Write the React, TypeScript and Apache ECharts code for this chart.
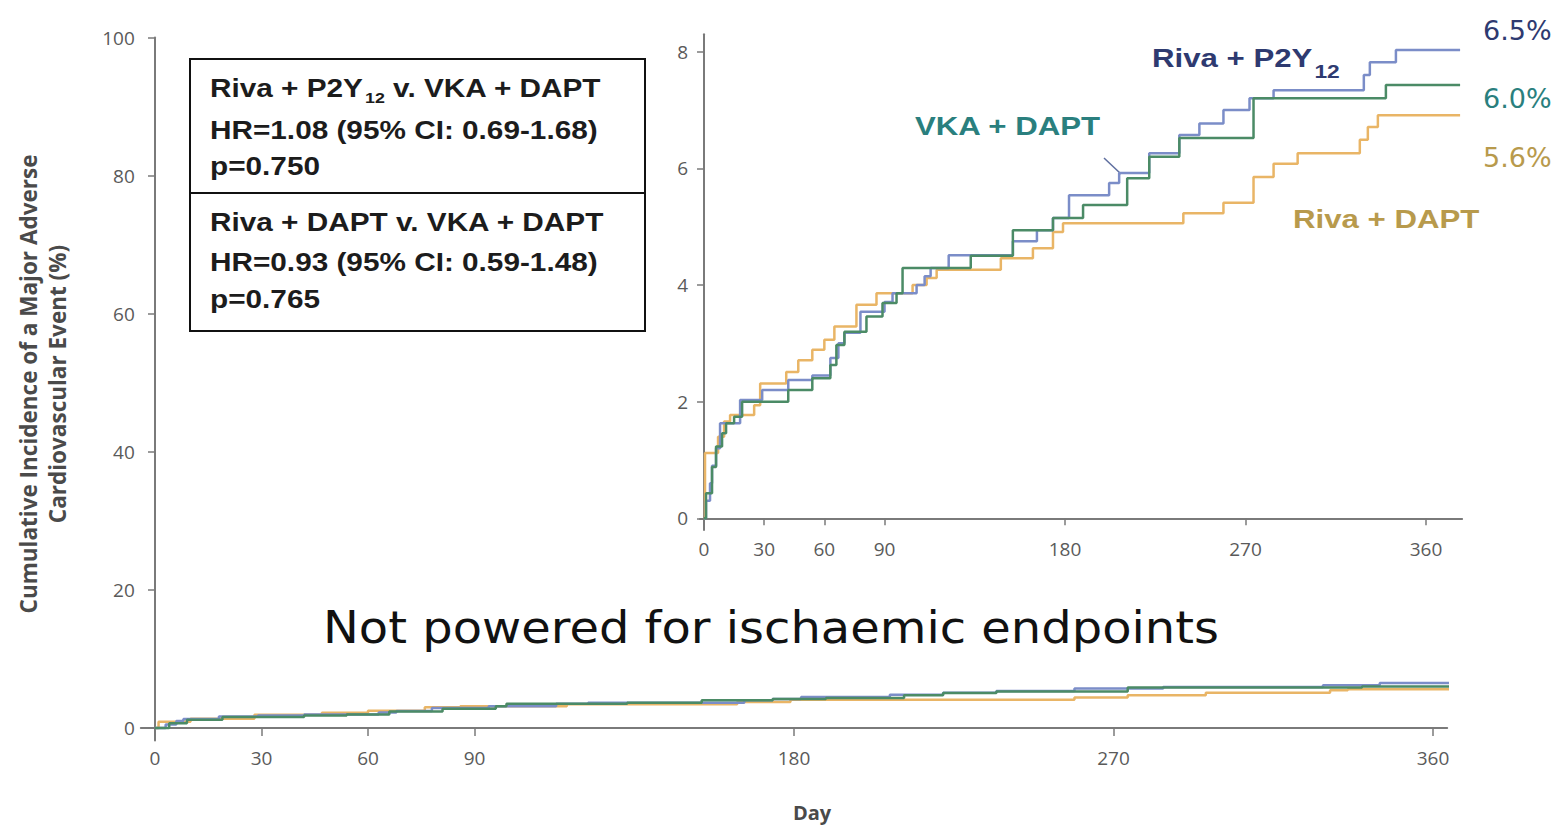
import React, { useEffect, useRef } from "react";
import * as echarts from "echarts";

// Tick positions
const dayTicks = [0, 30, 60, 90, 180, 270, 360];
const mainPctTicks = [0, 20, 40, 60, 80, 100];
const insetPctTicks = [0, 2, 4, 6, 8];

const seriesNames = ["Riva + P2Y12", "VKA + DAPT", "Riva + DAPT"];
const seriesColors = ["#7b8dc8", "#4b8b66", "#e9b566"];
const labelColors = ["#2e3a70", "#2a7f7e", "#b89a4c"];
const finalRates = ["6.5%", "6.0%", "5.6%"];

// Kaplan–Meier steps on the full 0–100 % scale: [day, cumulative incidence %]
const mainRivaP2Y12 = [
  [0, 0], [3, 0.5], [6, 1.0], [8, 1.3], [18, 1.65], [29, 1.8], [42, 1.95], [63, 2.25],
  [68, 2.45], [78, 2.9], [94, 3.15], [113, 3.5], [122, 3.65], [166, 4.0], [174, 4.2],
  [182, 4.5], [207, 4.8], [222, 5.1], [237, 5.35], [259, 5.7], [284, 5.95], [329, 6.2],
  [345, 6.5], [377, 6.5],
];
const mainVkaDapt = [
  [0, 0], [4, 0.7], [9, 1.2], [19, 1.6], [42, 1.8], [54, 1.95], [66, 2.4], [81, 2.8],
  [96, 3.15], [99, 3.5], [133, 3.65], [154, 4.0], [174, 4.2], [189, 4.35], [211, 4.75],
  [222, 5.05], [237, 5.3], [274, 5.85], [340, 6.0], [377, 6.0],
];
const mainRivaDapt = [
  [0, 0], [1, 0.9], [10, 1.35], [28, 1.9], [47, 2.2], [60, 2.5], [76, 3.0], [86, 3.15],
  [116, 3.45], [164, 3.75], [179, 4.1], [259, 4.4], [274, 4.75], [296, 5.1], [331, 5.45],
  [336, 5.6], [377, 5.6],
];

// Kaplan–Meier steps in the magnified inset: [day, value on the 0–8 axis]
const insetRivaP2Y12 = [
  [0, 0], [1, 0.3], [3, 0.6], [4, 0.9], [6, 1.2], [8, 1.63], [18, 2.03], [29, 2.2],
  [42, 2.37], [54, 2.45], [63, 2.75], [67, 3.0], [70, 3.18], [78, 3.54], [90, 3.71],
  [94, 3.86], [106, 4.0], [110, 4.15], [113, 4.29], [122, 4.51], [154, 4.75], [166, 4.94],
  [174, 5.15], [182, 5.54], [202, 5.75], [207, 5.92], [222, 6.26], [237, 6.57], [247, 6.77],
  [259, 7.0], [272, 7.2], [284, 7.34], [329, 7.6], [332, 7.82], [345, 8.03], [377, 8.03],
];
const insetVkaDapt = [
  [0, 0], [1, 0.43], [4, 0.88], [6, 1.23], [9, 1.46], [11, 1.63], [15, 1.74], [19, 2.0],
  [42, 2.2], [54, 2.4], [63, 2.63], [66, 2.97], [70, 3.2], [81, 3.46], [89, 3.69],
  [96, 3.86], [99, 4.29], [133, 4.5], [154, 4.94], [174, 5.15], [189, 5.37], [211, 5.83],
  [222, 6.2], [237, 6.52], [274, 7.2], [340, 7.43], [377, 7.43],
];
const insetRivaDapt = [
  [0, 0], [0.5, 1.12], [7, 1.4], [10, 1.66], [13, 1.77], [25, 1.94], [28, 2.31], [41, 2.51],
  [47, 2.71], [54, 2.89], [60, 3.06], [65, 3.29], [76, 3.66], [86, 3.86], [104, 4.0],
  [111, 4.12], [116, 4.26], [148, 4.46], [164, 4.63], [174, 4.91], [179, 5.06], [239, 5.23],
  [259, 5.41], [274, 5.85], [284, 6.08], [296, 6.26], [327, 6.49], [331, 6.71], [336, 6.91],
  [377, 6.91],
];

// Hazard-ratio comparisons shown in the boxed panel
const comparison1 = ["Riva + P2Y", "12", " v. VKA + DAPT"];
const comparison1Stats = ["HR=1.08 (95% CI: 0.69-1.68)", "p=0.750"];
const comparison2 = "Riva + DAPT v. VKA + DAPT";
const comparison2Stats = ["HR=0.93 (95% CI: 0.59-1.48)", "p=0.765"];

const yAxisTitle = "Cumulative Incidence of a Major Adverse\nCardiovascular Event (%)";
const xAxisTitle = "Day";
const footnote = "Not powered for ischaemic endpoints";

let measureCtx: CanvasRenderingContext2D | null = null;
function measure(text: string, font: string): number {
  if (!measureCtx) measureCtx = document.createElement("canvas").getContext("2d");
  if (!measureCtx) return text.length * 10;
  measureCtx.font = font;
  return measureCtx.measureText(text).width;
}

const BOLD_FAMILY = '"Liberation Sans", Arial, sans-serif';
const AXIS_GREY = "#7a7a7a";
const TICK_TEXT = "#5a5a5a";

function boldText(text: string, x: number, y: number, size: number, color: string, sx: number) {
  return {
    type: "text",
    x,
    y,
    scaleX: sx,
    silent: true,
    style: {
      text,
      fill: color,
      fontFamily: BOLD_FAMILY,
      fontWeight: "bold",
      fontSize: size,
      align: "left",
      verticalAlign: "middle",
    },
  };
}

// "Riva + P2Y" with a lowered "12" and a trailing part
function subscripted(parts: string[], x: number, y: number, size: number, subSize: number, subDy: number, color: string, sx: number) {
  const w1 = measure(parts[0], `bold ${size}px "Liberation Sans"`) * sx;
  const w2 = measure(parts[1], `bold ${subSize}px "Liberation Sans"`) * sx;
  const out: any[] = [
    boldText(parts[0], x, y, size, color, sx),
    boldText(parts[1], x + w1 + 2, y + subDy, subSize, color, sx),
  ];
  if (parts[2]) out.push(boldText(parts[2], x + w1 + 2 + w2, y, size, color, sx));
  return out;
}

function lineSeries(name: string, data: number[][], color: string, axis: number, width: number, z: number) {
  return {
    type: "line",
    name,
    data,
    step: "end",
    xAxisIndex: axis,
    yAxisIndex: axis,
    showSymbol: false,
    symbol: "none",
    silent: true,
    z,
    lineStyle: { color, width },
    itemStyle: { color },
  };
}

function valueAxis(gridIndex: number, min: number, max: number, ticks: number[], margin: number, tickLen: number) {
  return {
    type: "value",
    gridIndex,
    min,
    max,
    splitLine: { show: false },
    axisLine: { show: true, onZero: true, lineStyle: { color: AXIS_GREY, width: 2 } },
    axisTick: { show: true, customValues: ticks, length: tickLen, lineStyle: { color: AXIS_GREY, width: 1.5 } },
    axisLabel: {
      customValues: ticks,
      margin,
      color: TICK_TEXT,
      fontFamily: "Open Sans",
      fontSize: 19,
    },
  };
}

export default function App() {
  const ref = useRef<HTMLDivElement>(null);

  useEffect(() => {
    if (!ref.current) return;
    const chart = echarts.init(ref.current, undefined, { renderer: "svg" });

    const graphic: any[] = [];

    // y-axis title of the full-scale plot
    graphic.push({
      type: "text",
      x: 43,
      y: 384,
      rotation: Math.PI / 2,
      silent: true,
      style: {
        text: yAxisTitle,
        fill: "#4a4a4a",
        fontFamily: "Open Sans",
        fontWeight: "bold",
        fontSize: 22.5,
        lineHeight: 29,
        align: "center",
        verticalAlign: "middle",
      },
    });
    graphic.push({
      type: "text",
      x: 812,
      y: 812,
      silent: true,
      style: {
        text: xAxisTitle,
        fill: "#4a4a4a",
        fontFamily: "Open Sans",
        fontWeight: "bold",
        fontSize: 20,
        align: "center",
        verticalAlign: "middle",
      },
    });

    // boxed comparison panel
    graphic.push({
      type: "rect",
      silent: true,
      shape: { x: 190, y: 59, width: 455, height: 272 },
      style: { fill: "#fff", stroke: "#111", lineWidth: 2 },
    });
    graphic.push({
      type: "line",
      silent: true,
      shape: { x1: 190, y1: 193, x2: 645, y2: 193 },
      style: { stroke: "#111", lineWidth: 2 },
    });
    const boxSx = 1.19;
    graphic.push(...subscripted(comparison1, 210, 88, 25, 15, 10, "#1c1c1c", boxSx));
    graphic.push(boldText(comparison1Stats[0], 210, 130, 25, "#1c1c1c", boxSx));
    graphic.push(boldText(comparison1Stats[1], 210, 166, 25, "#1c1c1c", boxSx));
    graphic.push(boldText(comparison2, 210, 222, 25, "#1c1c1c", boxSx));
    graphic.push(boldText(comparison2Stats[0], 210, 262, 25, "#1c1c1c", boxSx));
    graphic.push(boldText(comparison2Stats[1], 210, 299, 25, "#1c1c1c", boxSx));

    // inset curve labels
    graphic.push(...subscripted(["Riva + P2Y", "12", ""], 1152, 58, 26, 19, 13, labelColors[0], 1.2));
    graphic.push(boldText(seriesNames[1], 915, 126, 26, labelColors[1], 1.2));
    graphic.push(boldText(seriesNames[2], 1293, 219, 26, labelColors[2], 1.2));
    graphic.push({
      type: "polyline",
      silent: true,
      shape: { points: [[1104, 158], [1121, 174]] },
      style: { stroke: "#5f6f9f", lineWidth: 1.5, fill: null },
    });

    // one-year rates
    const rateY = [30, 98, 157];
    finalRates.forEach((r, i) => {
      graphic.push({
        type: "text",
        x: 1483,
        y: rateY[i],
        silent: true,
        style: {
          text: r,
          fill: labelColors[i],
          fontFamily: "DejaVu Sans",
          fontSize: 27,
          align: "left",
          verticalAlign: "middle",
        },
      });
    });

    graphic.push({
      type: "text",
      x: 323,
      y: 628,
      scaleX: 1.09,
      silent: true,
      style: {
        text: footnote,
        fill: "#111",
        fontFamily: "DejaVu Sans",
        fontSize: 44,
        align: "left",
        verticalAlign: "middle",
      },
    });

    const option: any = {
      animation: false,
      backgroundColor: "#ffffff",
      grid: [
        { left: 140.8, top: 37.5, width: 1306.4, height: 702.9, containLabel: false },
        { left: 700, top: 34.2, width: 762.1, height: 495.8, containLabel: false },
      ],
      xAxis: [
        valueAxis(0, -4, 364, dayTicks, 8, 8),
        valueAxis(1, -2, 378, dayTicks, 9, 7),
      ],
      yAxis: [
        valueAxis(0, -1.8, 100, mainPctTicks, 6, 7),
        valueAxis(1, -0.2, 8.3, insetPctTicks, 12, 7),
      ],
      series: [
        lineSeries(seriesNames[2], mainRivaDapt, seriesColors[2], 0, 2.5, 2),
        lineSeries(seriesNames[0], mainRivaP2Y12, seriesColors[0], 0, 2.5, 3),
        lineSeries(seriesNames[1], mainVkaDapt, seriesColors[1], 0, 2.5, 4),
        lineSeries(seriesNames[2], insetRivaDapt, seriesColors[2], 1, 2.5, 2),
        lineSeries(seriesNames[0], insetRivaP2Y12, seriesColors[0], 1, 2.5, 3),
        lineSeries(seriesNames[1], insetVkaDapt, seriesColors[1], 1, 2.5, 4),
      ],
      graphic,
    };

    chart.setOption(option);
    return () => chart.dispose();
  }, []);

  return (
    <div
      ref={ref}
      style={{ position: "fixed", left: 0, top: 0, width: 1562, height: 826, background: "#fff" }}
    />
  );
}
